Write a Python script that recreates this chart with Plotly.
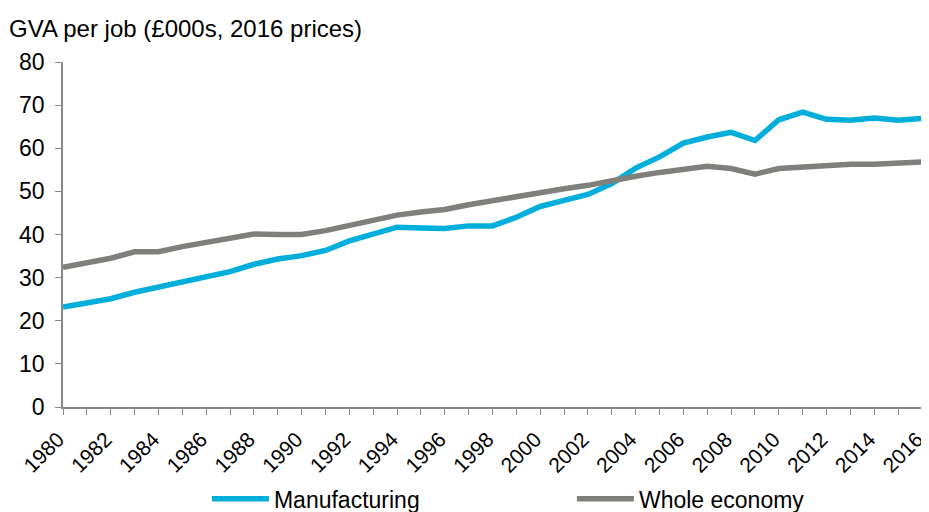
import plotly.graph_objects as go

years = list(range(1980, 2017))
manufacturing = [23.2, 24.0, 25.1, 26.6, 27.8, 28.9, 30.0, 31.4, 33.1, 34.3, 35.1, 36.3, 38.5,
                 40.1, 41.7, 41.5, 41.4, 42.0, 42.0, 44.0, 46.5, 47.9, 49.3, 51.8, 55.4, 58.0,
                 61.2, 62.6, 63.7, 61.8, 66.6, 68.4, 66.7, 66.5, 67.0, 66.5, 66.9]
whole_economy = [32.4, 33.3, 34.5, 36.0, 36.0, 37.2, 38.2, 39.3, 40.1, 40.0, 40.0, 40.9, 42.1,
                 43.1, 44.5, 45.2, 45.8, 46.9, 47.9, 48.8, 49.9, 50.6, 51.4, 52.6, 53.5, 54.4,
                 55.1, 55.8, 55.3, 54.0, 55.3, 55.7, 55.9, 56.3, 56.3, 56.7, 56.8]
x_tick_labels = [str(y) for y in range(1980, 2017, 2)]
y_tick_values = list(range(0, 81, 10))

title_text = "GVA per job (£000s, 2016 prices)"
font_family = "Liberation Sans, Arial, sans-serif"

fig = go.Figure()
fig.add_trace(go.Scatter(x=years, y=manufacturing, mode="lines", name="Manufacturing",
                         line=dict(color="#00AEDB", width=5.5)))
fig.add_trace(go.Scatter(x=years, y=whole_economy, mode="lines", name="Whole economy",
                         line=dict(color="#7F7F7B", width=5.5)))

fig.update_layout(
    width=921, height=504,
    margin=dict(l=55, r=7, t=54, b=105, autoexpand=False),
    paper_bgcolor="white", plot_bgcolor="white",
    font=dict(family=font_family, size=21, color="#000000"),
    showlegend=True,
    legend=dict(orientation="h", x=0.216, xanchor="left", xref="container",
                y=0.026, yanchor="middle", yref="container",
                font=dict(size=23), itemwidth=57, entrywidth=293, entrywidthmode="pixels",
                tracegroupgap=0),
    annotations=[dict(text=title_text, xref="paper", yref="paper", x=0, y=1,
                      xanchor="left", yanchor="bottom", xshift=-56, yshift=18,
                      showarrow=False, font=dict(size=24, family=font_family))],
)
fig.update_xaxes(range=[1980, 2016], tickmode="array",
                 tickvals=[int(t) for t in x_tick_labels], ticktext=x_tick_labels,
                 tickangle=-45, ticks="outside", ticklen=6, tickcolor="#898989",
                 showline=True, linecolor="#898989", linewidth=1.5, showgrid=False,
                 zeroline=False, tickfont=dict(size=21), automargin=False,
                 ticklabeloverflow="allow", ticklabelshift=-5, ticklabelstandoff=4,
                 minor=dict(tickvals=years, ticks="outside", ticklen=6,
                            tickcolor="#898989", showgrid=False))
fig.update_yaxes(range=[0, 80], tickmode="array", tickvals=y_tick_values,
                 ticks="outside", ticklen=6, tickcolor="#898989",
                 showline=True, linecolor="#898989", linewidth=1.5, showgrid=False,
                 zeroline=False, tickfont=dict(size=23), automargin=False,
                 ticklabelstandoff=6)

fig.write_html("out.html")
